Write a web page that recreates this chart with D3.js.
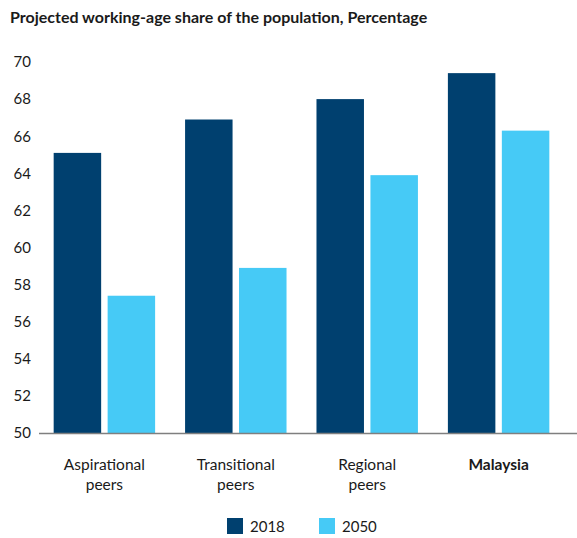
<!DOCTYPE html>
<html>
<head>
<meta charset="utf-8">
<script src="https://cdn.jsdelivr.net/npm/d3@7"></script>
<style>
  html, body { margin: 0; padding: 0; background: #fff; }
  svg { display: block; }
  text { font-family: Lato, "Open Sans", sans-serif; fill: #1a1a1a; }
</style>
</head>
<body>
<svg id="chart" width="577" height="538"></svg>
<script>
const categories = ["Aspirational peers", "Transitional peers", "Regional peers", "Malaysia"];
const categoryLines = [["Aspirational", "peers"], ["Transitional", "peers"], ["Regional", "peers"], ["Malaysia"]];
const seriesNames = ["2018", "2050"];
const values2018 = [65.1, 66.9, 68.0, 69.4];
const values2050 = [57.4, 58.9, 63.9, 66.3];
const yTicks = [50, 52, 54, 56, 58, 60, 62, 64, 66, 68, 70];
const colors = ["#00406F", "#46CAF6"];

const svg = d3.select("#chart");

const x0 = d3.scaleBand().domain(categories).range([40, 563]).paddingInner(0.228).paddingOuter(0.104);
const x1 = d3.scaleBand().domain(seriesNames).range([0, x0.bandwidth()]).paddingInner(0.12);
const y = d3.scaleLinear().domain([50, 70]).range([433, 62]);

svg.append("text").attr("x", 10).attr("y", 23)
  .style("font-size", "16px").style("font-weight", "bold")
  .text("Projected working-age share of the population, Percentage");

const yAxis = svg.append("g").attr("transform", "translate(31,0)")
  .call(d3.axisLeft(y).tickValues(yTicks).tickSize(0).tickPadding(0));
yAxis.select(".domain").remove();
yAxis.selectAll("text").style("font-size", "15px").style("font-family", "Lato, 'Open Sans', sans-serif").attr("fill", "#1a1a1a").attr("text-anchor", "end");

const data = categories.map((c, i) => ({ cat: c, vals: [values2018[i], values2050[i]] }));
const groups = svg.append("g").selectAll("g").data(data).join("g")
  .attr("transform", d => `translate(${x0(d.cat)},0)`);
groups.selectAll("rect").data(d => d.vals.map((v, j) => ({ s: seriesNames[j], v, j })))
  .join("rect")
  .attr("x", d => x1(d.s))
  .attr("width", x1.bandwidth())
  .attr("y", d => y(d.v))
  .attr("height", d => y(50) - y(d.v))
  .attr("fill", d => colors[d.j]);

svg.append("line").attr("x1", 39).attr("x2", 577).attr("y1", 433.5).attr("y2", 433.5)
  .attr("stroke", "#7f7f7f").attr("stroke-width", 1.5);

const xl = svg.append("g");
categories.forEach((c, i) => {
  const cx = x0(c) + x0.bandwidth() / 2;
  const t = xl.append("text").attr("x", cx).attr("y", 470).attr("text-anchor", "middle")
    .style("font-size", "15.5px").style("font-weight", c === "Malaysia" ? "bold" : "normal");
  categoryLines[i].forEach((ln, k) => {
    t.append("tspan").attr("x", cx).attr("dy", k === 0 ? 0 : 19.5).text(ln);
  });
});

const legX = [227, 319];
const lg = svg.append("g");
seriesNames.forEach((s, i) => {
  lg.append("rect").attr("x", legX[i]).attr("y", 518).attr("width", 16).attr("height", 16).attr("fill", colors[i]);
  lg.append("text").attr("x", legX[i] + 23).attr("y", 532).style("font-size", "15px").text(s);
});
</script>
</body>
</html>
